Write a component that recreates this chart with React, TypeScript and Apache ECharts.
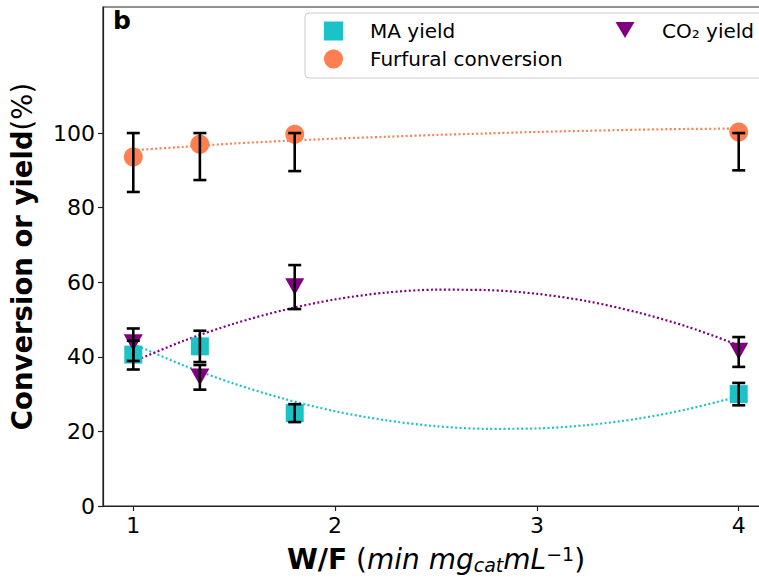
import React, { useEffect, useRef } from "react";
import * as echarts from "echarts";

// ---- data ----
const xVals = [1, 1.33, 1.8, 4];

const maYield = [40.6, 42.8, 24.9, 30.0];
const maLow = [36.6, 38.6, 22.5, 27.0];
const maHigh = [44.3, 47.0, 27.3, 33.0];

const co2Yield = [43.8, 34.6, 58.8, 41.5];
const co2Low = [38.9, 31.2, 52.8, 37.3];
const co2High = [47.6, 37.8, 64.6, 45.3];

const furConv = [93.6, 97.0, 99.7, 100.3];
const furLow = [84.2, 87.4, 89.8, 90.0];
const furHigh = [100, 100, 100, 100];

// fitted (dotted) curves
const fitX = [1.0, 1.25, 1.5, 1.75, 2.0, 2.25, 2.5, 2.75, 3.0, 3.25, 3.5, 3.75, 4.0];
const maFit = [43.4, 37.7, 32.8, 28.7, 25.4, 23.0, 21.4, 20.7, 20.8, 21.7, 23.4, 26.0, 29.4];
const co2Fit = [38.7, 44.3, 48.9, 52.6, 55.4, 57.2, 58.0, 57.9, 56.9, 54.9, 51.9, 48.0, 43.1];
const furFit = [95.4, 96.3, 97.2, 97.9, 98.5, 99.0, 99.5, 99.9, 100.3, 100.6, 100.9, 101.1, 101.2];

const xTicks = [1, 2, 3, 4];
const yTicks = [0, 20, 40, 60, 80, 100];

const C_MA = "#1BC3C7";
const C_FUR = "#FF7F50";
const C_CO2 = "#800080";
const FONT = "DejaVu Sans";
const TRI_DOWN = "path://M0,0 L10,0 L5,9 Z";

function pts(xs: number[], ys: number[]) {
  return xs.map((x, i) => [x, ys[i]]);
}
function errData(xs: number[], lo: number[], hi: number[]) {
  return xs.map((x, i) => [x, lo[i], hi[i]]);
}

function errSeries(name: string, data: number[][]) {
  return {
    type: "custom",
    name,
    z: 5,
    silent: true,
    data,
    encode: { x: 0, y: [1, 2] },
    renderItem: (params: any, api: any) => {
      const x = api.value(0);
      const lo = api.coord([x, api.value(1)]);
      const hi = api.coord([x, api.value(2)]);
      const cw = 6.5;
      const st = { stroke: "#000", lineWidth: 2.6 };
      return {
        type: "group",
        children: [
          { type: "line", shape: { x1: lo[0], y1: lo[1], x2: hi[0], y2: hi[1] }, style: st },
          { type: "line", shape: { x1: lo[0] - cw, y1: lo[1], x2: lo[0] + cw, y2: lo[1] }, style: st },
          { type: "line", shape: { x1: hi[0] - cw, y1: hi[1], x2: hi[0] + cw, y2: hi[1] }, style: st },
        ],
      };
    },
  };
}

function fitSeries(name: string, ys: number[], color: string) {
  return {
    type: "line",
    name,
    data: pts(fitX, ys),
    smooth: 0.3,
    showSymbol: false,
    symbol: "none",
    silent: true,
    z: 2,
    lineStyle: { color, width: 2.2, type: [2, 2.4] },
  };
}

export default function App() {
  const ref = useRef<HTMLDivElement>(null);
  useEffect(() => {
    if (!ref.current) return;
    const chart = echarts.init(ref.current, undefined, { renderer: "svg" });
    chart.setOption({
      animation: false,
      backgroundColor: "#fff",
      textStyle: { fontFamily: FONT },
      grid: {
        left: 103,
        top: 7,
        width: 666,
        height: 499,
        outerBoundsMode: "none",
        containLabel: false,
        show: true,
        borderColor: "#222",
        borderWidth: 1.2,
      },
      xAxis: {
        type: "value",
        min: 0.85,
        max: 4.15,
        splitLine: { show: false },
        axisLine: { show: true, lineStyle: { color: "#222", width: 1.2 } },
        axisTick: { show: true, length: 5, customValues: xTicks, lineStyle: { color: "#222", width: 1.2 } },
        axisLabel: {
          customValues: xTicks,
          color: "#000",
          fontSize: 22,
          fontFamily: FONT,
          margin: 8,
        },
        name: "{b|W/F} {n|(}{i|min mg}{sub|cat}{i|mL}{sup|−1}{n|)}",
        nameLocation: "middle",
        nameGap: 38,
        nameTextStyle: {
          fontFamily: FONT,
          fontSize: 28,
          color: "#000",
          lineHeight: 30,
          rich: {
            b: { fontWeight: "bold", fontSize: 28, fontFamily: FONT, color: "#000", lineHeight: 30 },
            n: { fontSize: 28, fontFamily: FONT, color: "#000", lineHeight: 30 },
            i: { fontStyle: "italic", fontSize: 28, fontFamily: FONT, color: "#000", lineHeight: 30 },
            sub: { fontStyle: "italic", fontSize: 19, fontFamily: FONT, color: "#000", verticalAlign: "bottom", lineHeight: 17 },
            sup: { fontSize: 19, fontFamily: FONT, color: "#000", verticalAlign: "top", lineHeight: 17 },
          },
        },
      },
      yAxis: {
        type: "value",
        min: 0,
        max: 133.8,
        splitLine: { show: false },
        axisLine: { show: true, lineStyle: { color: "#222", width: 1.2 } },
        axisTick: { show: true, length: 5, customValues: yTicks, lineStyle: { color: "#222", width: 1.2 } },
        axisLabel: {
          customValues: yTicks,
          color: "#000",
          fontSize: 22,
          fontFamily: FONT,
          margin: 8,
        },
        name: "{b|Conversion or yield}{n|(%)}",
        nameLocation: "middle",
        nameGap: 67,
        nameTextStyle: {
          fontFamily: FONT,
          rich: {
            b: { fontWeight: "bold", fontSize: 27.5, fontFamily: FONT, color: "#000" },
            n: { fontSize: 27.5, fontFamily: FONT, color: "#000" },
          },
        },
      },
      series: [
        fitSeries("MA fit", maFit, C_MA),
        fitSeries("CO2 fit", co2Fit, C_CO2),
        fitSeries("Furfural fit", furFit, C_FUR),
        {
          type: "scatter",
          name: "MA yield",
          data: pts(xVals, maYield),
          symbol: "rect",
          symbolSize: 18,
          itemStyle: { color: C_MA, opacity: 1 },
          z: 3,
        },
        {
          type: "scatter",
          name: "Furfural conversion",
          data: pts(xVals, furConv),
          symbol: "circle",
          symbolSize: 19,
          itemStyle: { color: C_FUR, opacity: 1 },
          z: 3,
        },
        {
          type: "scatter",
          name: "CO₂ yield",
          data: pts(xVals, co2Yield),
          symbol: TRI_DOWN,
          symbolSize: [19, 17],
          itemStyle: { color: C_CO2, opacity: 1 },
          z: 4,
        },
        errSeries("MA err", errData(xVals, maLow, maHigh)),
        errSeries("CO2 err", errData(xVals, co2Low, co2High)),
        errSeries("Furfural err", errData(xVals, furLow, furHigh)),
      ],
      graphic: [
        {
          type: "text",
          left: 113,
          top: 8,
          style: { text: "b", fontFamily: FONT, fontWeight: "bold", fontSize: 25, fill: "#000" },
          z: 10,
        },
        {
          type: "rect",
          shape: { x: 305, y: 13, width: 480, height: 65, r: 4 },
          style: { fill: "rgba(255,255,255,0.85)", stroke: "#cccccc", lineWidth: 1 },
          z: 10,
        },
        {
          type: "rect",
          shape: { x: 324, y: 21.5, width: 19, height: 19 },
          style: { fill: C_MA },
          z: 11,
        },
        {
          type: "circle",
          shape: { cx: 333.5, cy: 59, r: 9.5 },
          style: { fill: C_FUR },
          z: 11,
        },
        {
          type: "polygon",
          shape: { points: [[615.5, 22], [634.5, 22], [625, 38]] },
          style: { fill: C_CO2 },
          z: 11,
        },
        {
          type: "text",
          x: 370,
          y: 31,
          style: { text: "MA yield", fontFamily: FONT, fontSize: 20, fill: "#000", verticalAlign: "middle" },
          z: 11,
        },
        {
          type: "text",
          x: 370,
          y: 59,
          style: { text: "Furfural conversion", fontFamily: FONT, fontSize: 20, fill: "#000", verticalAlign: "middle" },
          z: 11,
        },
        {
          type: "text",
          x: 662,
          y: 31,
          style: { text: "CO₂ yield", fontFamily: FONT, fontSize: 20, fill: "#000", verticalAlign: "middle" },
          z: 11,
        },
      ],
    });
    return () => chart.dispose();
  }, []);
  return (
    <div
      ref={ref}
      style={{ position: "fixed", left: 0, top: 0, width: 759, height: 581, background: "#fff" }}
    />
  );
}
